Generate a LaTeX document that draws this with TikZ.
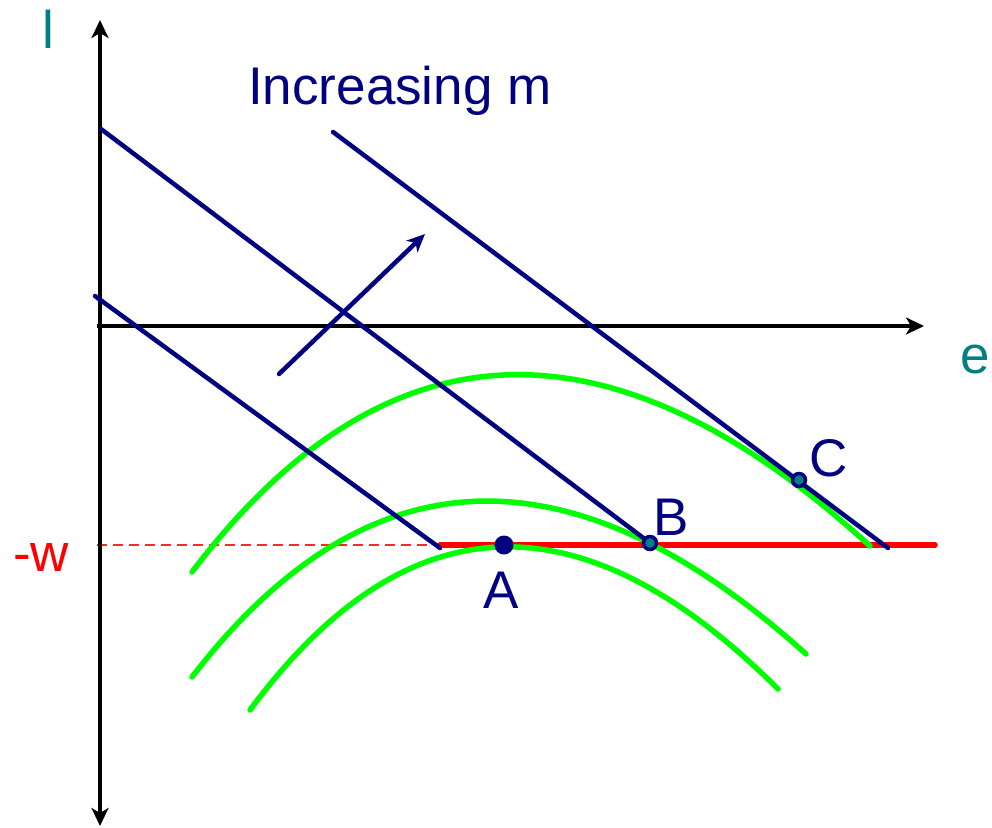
\documentclass[tikz,border=0pt]{standalone}
\usepackage{fontspec}
\setmainfont{Liberation Sans}
\usetikzlibrary{arrows.meta}
\definecolor{navy}{RGB}{0,0,128}
\definecolor{tealc}{RGB}{0,128,128}
\definecolor{lgreen}{RGB}{0,255,0}
\tikzset{
  axis/.style={line width=4.5pt,black,-{Stealth[length=18pt,width=17pt,inset=5pt]}},
  budget/.style={line width=4.5pt,navy,line cap=round},
  indiff/.style={line width=5.5pt,lgreen,line cap=round},
  lbl/.style={font=\fontsize{53}{60}\selectfont,inner sep=0pt,anchor=base west},
}
\newcommand{\optpt}[1]{\filldraw[fill=tealc,draw=navy,line width=3.5pt] (#1) circle (6.5pt);}

\begin{document}
\begin{tikzpicture}[x=1pt,y=-1pt]
  \useasboundingbox (0,0) rectangle (992,827);
  \coordinate (ybot) at (100,826);
  \coordinate (ytop) at (100,20);
  \coordinate (xl)   at (97,326);
  \coordinate (xr)   at (924,326);
  \coordinate (wl)   at (97,545);
  \coordinate (wm)   at (440,545);
  \coordinate (wr)   at (935,545);
  \coordinate (nA)   at (504,545);
  \coordinate (nB)   at (650,543);
  \coordinate (nC)   at (799,480);
  \coordinate (m0s)  at (95,296);
  \coordinate (m0e)  at (440,548);
  \coordinate (m1s)  at (101,129);
  \coordinate (m2s)  at (333,132);
  \coordinate (m2e)  at (888,548);
  \coordinate (as)   at (279,374);
  \coordinate (ae)   at (425,234);

  % -w level
  \draw[red!85,line width=1.2pt,dash pattern=on 10pt off 6pt] (wl)--(wm);
  \draw[red,line width=5.5pt,line cap=round] (wm)--(wr);
  % indifference curves
  \draw[indiff] (192,572) .. controls (384.7,318) and (610.7,309) .. (870,546);
  \draw[indiff] (192,677) .. controls (366.4,450.3) and (571.1,442.7) .. (806,654);
  \draw[indiff] (250,710) .. controls (405.7,499.7) and (581.7,492.7) .. (778,689);
  % axes
  \draw[axis,{Stealth[length=18pt,width=17pt,inset=5pt]}-{Stealth[length=18pt,width=17pt,inset=5pt]}] (ybot)--(ytop);
  \draw[axis] (xl)--(xr);
  % lines of constant m
  \draw[budget] (m0s)--(m0e);
  \draw[budget] (m1s)--(nB);
  \draw[budget] (m2s)--(m2e);
  \draw[budget,-{Stealth[length=18pt,width=16pt,inset=5pt]}] (as)--(ae);

  \fill[navy] (nA) circle (9.5pt);
  \foreach \p in {nB,nC}{\optpt{\p}}

  \node[lbl,tealc] (ll) at (42,48)   {l};
  \node[lbl,tealc] (le) at (960,373) {e};
  \node[lbl,red]   (lw) at (13,571)  {-w};
  \node[lbl,navy]  (lm) at (248,104) {Increasing m};
  \node[lbl,navy,anchor=base] (lA) at (501,608) {A};
  \node[lbl,navy]  (lB) at (653,535) {B};
  \node[lbl,navy]  (lC) at (809,476) {C};
\end{tikzpicture}
\end{document}
